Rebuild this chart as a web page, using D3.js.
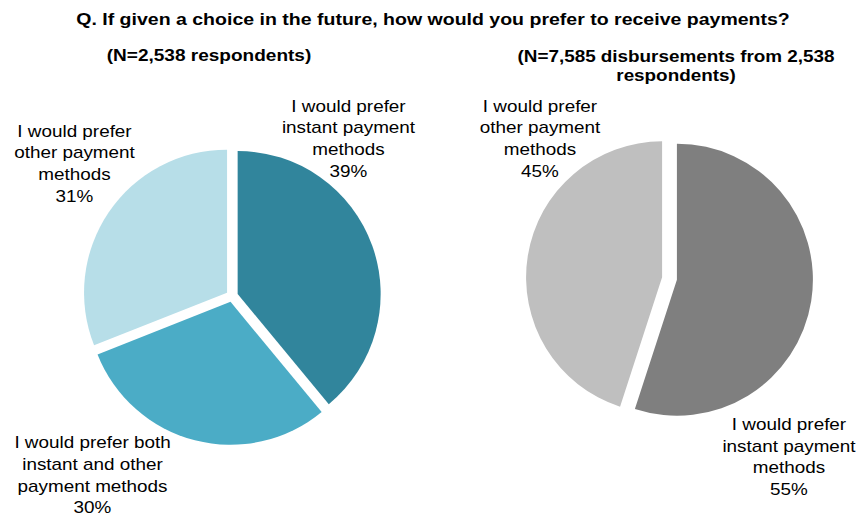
<!DOCTYPE html>
<html>
<head>
<meta charset="utf-8">
<script src="https://cdn.jsdelivr.net/npm/d3@7"></script>
<style>
  html, body { margin: 0; padding: 0; background: #ffffff; }
  svg { display: block; font-family: "Liberation Sans", Arial, sans-serif; }
</style>
</head>
<body>
<svg id="chart" width="860" height="521"></svg>
<script>
// Survey question and sample descriptions
const titleText = "Q. If given a choice in the future, how would you prefer to receive payments?";
const leftSubtitle = ["(N=2,538 respondents)"];
const rightSubtitle = ["(N=7,585 disbursements from 2,538", "respondents)"];

// Left pie: respondents
const leftCategories = [
  "I would prefer instant payment methods",
  "I would prefer both instant and other payment methods",
  "I would prefer other payment methods"
];
const leftValues = [39, 30, 31];
const leftLabelLines = [
  ["I would prefer", "instant payment", "methods"],
  ["I would prefer both", "instant and other", "payment methods"],
  ["I would prefer", "other payment", "methods"]
];
const leftColors = ["#31859c", "#4bacc6", "#b7dee8"];

// Right pie: disbursements
const rightCategories = [
  "I would prefer instant payment methods",
  "I would prefer other payment methods"
];
const rightValues = [55, 45];
const rightLabelLines = [
  ["I would prefer", "instant payment", "methods"],
  ["I would prefer", "other payment", "methods"]
];
const rightColors = ["#7f7f7f", "#bfbfbf"];

const svg = d3.select("#chart");

// Text helper: horizontally stretched, centred lines
function drawLines(g, lines, cx, y0, lineH, opts) {
  lines.forEach((t, i) => {
    const txt = g.append("text")
      .attr("text-anchor", "middle")
      .attr("font-size", opts.size)
      .attr("font-weight", opts.weight || "normal")
      .attr("fill", "#000")
      .text(t);
    let sx = opts.sx;
    if (opts.width) sx = opts.width / txt.node().getComputedTextLength();
    txt.attr("transform", `translate(${cx},${y0 + i * lineH}) scale(${sx},1)`);
  });
}

// Title and subtitles
drawLines(svg, [titleText], 433, 25, 0, { width: 714, size: 17, weight: "bold" });
drawLines(svg, leftSubtitle, 209, 61, 19, { sx: 1.12, size: 17, weight: "bold" });
drawLines(svg, rightSubtitle, 676, 62, 19, { sx: 1.11, size: 17, weight: "bold" });

// Exploded pie
function drawPie(cfg) {
  const pie = d3.pie().sort(null).value(d => d.value);
  const arc = d3.arc().innerRadius(0).outerRadius(cfg.r);
  const data = cfg.values.map((v, i) => ({ name: cfg.categories[i], value: v, color: cfg.colors[i] }));
  const g = svg.append("g").attr("transform", `translate(${cfg.cx},${cfg.cy})`);
  g.selectAll("path")
    .data(pie(data))
    .join("path")
    .attr("d", arc)
    .attr("fill", d => d.data.color)
    .attr("transform", d => {
      const mid = (d.startAngle + d.endAngle) / 2;
      return `translate(${Math.sin(mid) * cfg.explode},${-Math.cos(mid) * cfg.explode})`;
    });

  // Category labels with percentage
  const labelG = svg.append("g");
  cfg.values.forEach((v, i) => {
    const pos = cfg.labelPos[i];
    drawLines(labelG, cfg.lines[i].concat([`${v}%`]), pos[0], pos[1], 21.7, { sx: 1.18, size: 16 });
  });
}

drawPie({
  cx: 232, cy: 296, r: 143, explode: 6,
  categories: leftCategories, values: leftValues, colors: leftColors, lines: leftLabelLines,
  labelPos: [[348.5, 111.7], [92.5, 448.3], [74.5, 136.7]]
});

drawPie({
  cx: 669.5, cy: 278.5, r: 136, explode: 7.5,
  categories: rightCategories, values: rightValues, colors: rightColors, lines: rightLabelLines,
  labelPos: [[789, 430], [540, 111.7]]
});
</script>
</body>
</html>
